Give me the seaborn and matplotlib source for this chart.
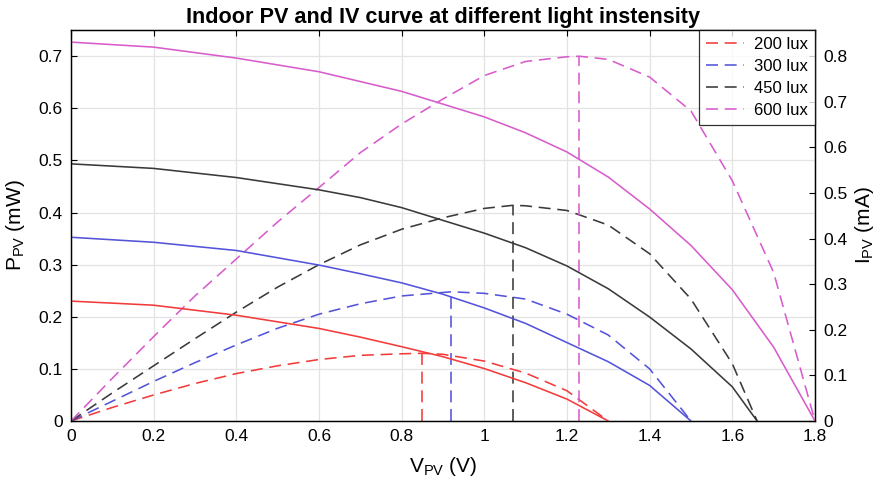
import matplotlib
matplotlib.use("Agg")
import matplotlib.pyplot as plt
import seaborn as sns
from matplotlib.lines import Line2D

# ---- data -------------------------------------------------------------
lux_labels = ["200 lux", "300 lux", "450 lux", "600 lux"]
line_colors = ["#f23b3b", "#5454da", "#3a3a3a", "#d85ccc"]

# PV output power (mW) vs. voltage (V)
v_p_200 = [0, 0.1, 0.2, 0.3, 0.4, 0.5, 0.6, 0.7, 0.8, 0.85, 0.9, 1.0, 1.1, 1.2, 1.3]
p_200 = [0, 0.026, 0.050, 0.072, 0.091, 0.106, 0.118, 0.126, 0.129, 0.130, 0.128, 0.115, 0.092, 0.058, 0.0]

v_p_300 = [0, 0.1, 0.2, 0.3, 0.4, 0.5, 0.6, 0.7, 0.8, 0.92, 1.0, 1.1, 1.2, 1.3, 1.4, 1.5]
p_300 = [0, 0.038, 0.076, 0.112, 0.146, 0.178, 0.205, 0.225, 0.240, 0.248, 0.245, 0.234, 0.205, 0.165, 0.100, 0.0]

v_p_450 = [0, 0.1, 0.2, 0.3, 0.4, 0.5, 0.6, 0.7, 0.8, 0.9, 1.0, 1.07, 1.1, 1.2, 1.3, 1.4, 1.5, 1.6, 1.66]
p_450 = [0, 0.054, 0.106, 0.158, 0.209, 0.257, 0.300, 0.338, 0.368, 0.390, 0.408, 0.414, 0.413, 0.404, 0.376, 0.321, 0.234, 0.110, 0.0]

v_p_600 = [0, 0.1, 0.2, 0.3, 0.4, 0.5, 0.6, 0.7, 0.8, 0.9, 1.0, 1.1, 1.2, 1.23, 1.3, 1.4, 1.5, 1.6, 1.7, 1.8]
p_600 = [0, 0.082, 0.162, 0.240, 0.311, 0.382, 0.448, 0.515, 0.570, 0.618, 0.663, 0.690, 0.699, 0.700, 0.694, 0.660, 0.595, 0.461, 0.285, 0.0]

# PV output current (mA) vs. voltage (V)
v_i_200 = [0, 0.2, 0.4, 0.6, 0.7, 0.8, 0.9, 1.0, 1.1, 1.2, 1.3]
i_200 = [0.263, 0.254, 0.232, 0.203, 0.184, 0.163, 0.141, 0.115, 0.084, 0.048, 0.0]

v_i_300 = [0, 0.2, 0.4, 0.6, 0.7, 0.8, 0.9, 1.0, 1.1, 1.2, 1.3, 1.4, 1.5]
i_300 = [0.403, 0.392, 0.374, 0.342, 0.323, 0.303, 0.278, 0.248, 0.214, 0.172, 0.130, 0.078, 0.0]

v_i_450 = [0, 0.2, 0.4, 0.6, 0.7, 0.8, 0.9, 1.0, 1.1, 1.2, 1.3, 1.4, 1.5, 1.6, 1.66]
i_450 = [0.564, 0.554, 0.534, 0.507, 0.490, 0.468, 0.440, 0.412, 0.380, 0.340, 0.290, 0.228, 0.158, 0.075, 0.0]

v_i_600 = [0, 0.2, 0.4, 0.6, 0.8, 1.0, 1.1, 1.2, 1.3, 1.4, 1.5, 1.6, 1.7, 1.8]
i_600 = [0.831, 0.820, 0.796, 0.766, 0.723, 0.667, 0.632, 0.590, 0.535, 0.465, 0.385, 0.288, 0.162, 0.0]

# maximum power points
mpp_voltage = [0.85, 0.92, 1.07, 1.23]
mpp_power = [0.130, 0.248, 0.414, 0.700]

x_ticks = [0, 0.2, 0.4, 0.6, 0.8, 1.0, 1.2, 1.4, 1.6, 1.8]
p_ticks = [0, 0.1, 0.2, 0.3, 0.4, 0.5, 0.6, 0.7]
i_ticks = [0, 0.1, 0.2, 0.3, 0.4, 0.5, 0.6, 0.7, 0.8]

power_curves = [(v_p_200, p_200), (v_p_300, p_300), (v_p_450, p_450), (v_p_600, p_600)]
current_curves = [(v_i_200, i_200), (v_i_300, i_300), (v_i_450, i_450), (v_i_600, i_600)]

# ---- style ------------------------------------------------------------
sns.set_theme(style="white")
plt.rcParams["font.family"] = ["Liberation Sans", "DejaVu Sans"]
plt.rcParams["mathtext.default"] = "regular"
plt.rcParams["text.color"] = "black"
plt.rcParams["axes.labelcolor"] = "black"
plt.rcParams["xtick.color"] = "black"
plt.rcParams["ytick.color"] = "black"

def fmt(v):
    return f"{v:g}"

fig = plt.figure(figsize=(8.82, 4.87), dpi=100)
ax = fig.add_axes([0.0805, 0.1355, 0.8435, 0.8025])
ax2 = ax.twinx()

dash = (0, (7.5, 4.2))
lw = 1.15

for (v, p), c in zip(power_curves, line_colors):
    sns.lineplot(x=v, y=p, ax=ax, color=c, linewidth=lw, linestyle=dash,
                 sort=False, estimator=None)

for vm, pm, c in zip(mpp_voltage, mpp_power, line_colors):
    sns.lineplot(x=[vm, vm], y=[0, pm], ax=ax, color=c, linewidth=lw,
                 linestyle=dash, sort=False, estimator=None)

for (v, i), c in zip(current_curves, line_colors):
    sns.lineplot(x=v, y=i, ax=ax2, color=c, linewidth=lw, sort=False, estimator=None)

p_top = 0.75
ax.set_xlim(0, 1.8)
ax.set_ylim(0, p_top)
ax2.set_ylim(0, p_top * 0.8 / 0.7)

ax.set_xticks(x_ticks)
ax.set_xticklabels([fmt(t) for t in x_ticks])
ax.set_yticks(p_ticks)
ax.set_yticklabels([fmt(t) for t in p_ticks])
ax2.set_yticks(i_ticks)
ax2.set_yticklabels([fmt(t) for t in i_ticks])

ax.grid(True, color="#e3e3e3", linewidth=0.9)
ax2.grid(False)
ax.set_axisbelow(True)

ax.tick_params(direction="in", top=True, right=False, length=4, width=0.8,
               labelsize=12.5, color="black", labelcolor="black", pad=6)
ax2.tick_params(direction="in", length=4, width=0.8, labelsize=12.5,
                color="black", labelcolor="black", pad=6)

for a in (ax, ax2):
    for s in a.spines.values():
        s.set_color("black")
        s.set_linewidth(0.9)

ax.set_xlabel("$V_{PV}$ (V)", fontsize=15, labelpad=8, color="black")
ax.set_ylabel("$P_{PV}$ (mW)", fontsize=15, labelpad=8, color="black")
ax2.set_ylabel("$I_{PV}$ (mA)", fontsize=15, labelpad=4, color="black")
ax.set_title("Indoor PV and IV curve at different light instensity",
             fontsize=15.6, fontweight="bold", pad=5, color="black")

handles = [Line2D([0], [0], color=c, linewidth=lw, linestyle=dash) for c in line_colors]
leg = ax2.legend(handles, lux_labels, loc="upper right", fontsize=12,
                 frameon=True, fancybox=False, borderpad=0.4,
                 handlelength=2.3, handletextpad=0.6, labelspacing=0.42,
                 borderaxespad=0.0)
leg.get_frame().set_edgecolor("black")
leg.get_frame().set_linewidth(0.9)
for t in leg.get_texts():
    t.set_color("black")

fig.savefig("out.png", dpi=100)
